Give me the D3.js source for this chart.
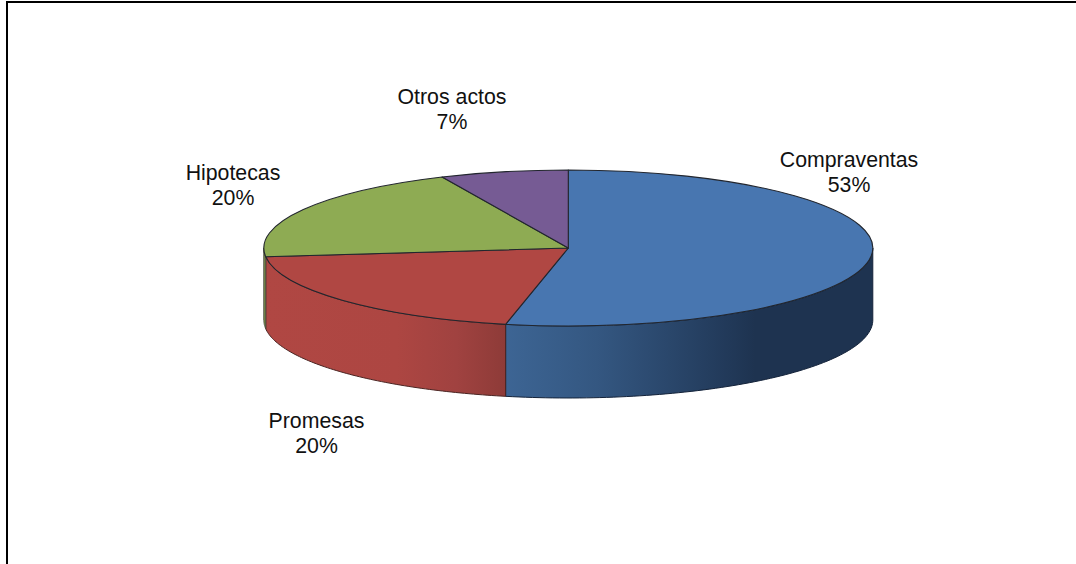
<!DOCTYPE html>
<html><head><meta charset="utf-8">
<script src="https://cdn.jsdelivr.net/npm/d3@7/dist/d3.min.js"></script>
<style>html,body{margin:0;padding:0;background:#fff}svg{display:block}</style>
</head><body><svg id="c" width="1076" height="564"></svg>
<script>
const categories = ["Compraventas","Promesas","Hipotecas","Otros actos"];
const values = [53.3,19.9,20,6.8];
const topColors = ["#4876B0","#B04743","#8EAB53","#765B94"];
const wallStrokes = ["#14233a","#4a2422","#4d4f40"];
const labelAnchors = [[849,167],[316.5,428],[233,180],[452,104]];

const W=1076,H=564,cx=568.3,cy=248,rx=304.5,ry=78,depth=72;
const svg=d3.select("#c");
const defs=svg.append("defs");

// frame: left and top edges only
svg.append("path").attr("d",`M7,564V2H1076`).attr("fill","none").attr("stroke","#000").attr("stroke-width",2);

const pie=d3.pie().sort(null).value(d=>d).startAngle(0).endAngle(2*Math.PI);
const arcs=pie(values);
const px=a=>cx+rx*Math.sin(a), py=a=>cy-ry*Math.cos(a);

// gradients for side walls, by screen x
const grads=[
 {i:0,x1:505,x2:873,stops:[[0,"#3D6594"],[0.25,"#345781"],[0.6,"#223A5A"],[0.68,"#1E3350"],[1,"#1E3350"]]},
 {i:1,x1:264,x2:505,stops:[[0,"#B04743"],[0.55,"#AD4642"],[0.8,"#A04240"],[1,"#8E3B38"]]},
 {i:2,x1:263,x2:266,stops:[[0,"#6F8540"],[1,"#8EAB53"]]}
];
grads.forEach(g=>{
 const lg=defs.append("linearGradient").attr("id","g"+g.i).attr("gradientUnits","userSpaceOnUse")
   .attr("x1",g.x1).attr("x2",g.x2).attr("y1",0).attr("y2",0);
 g.stops.forEach(s=>lg.append("stop").attr("offset",s[0]).attr("stop-color",s[1]));
});

// walls: visible front part only (angles between PI/2 and 3PI/2)
function wall(a0,a1){
  const n=80,s=d3.range(n+1).map(k=>a0+(a1-a0)*k/n);
  const line=d3.line();
  const topEdge=s.map(a=>[px(a),py(a)]);
  const botEdge=s.slice().reverse().map(a=>[px(a),py(a)+depth]);
  return line(topEdge.concat(botEdge))+"Z";
}
const g=svg.append("g");
arcs.forEach((d,i)=>{
  const a0=Math.max(d.startAngle,Math.PI/2), a1=Math.min(d.endAngle,3*Math.PI/2);
  if(a1<=a0) return;
  g.append("path").attr("d",wall(a0,a1)).attr("fill",`url(#g${i})`)
   .attr("stroke",wallStrokes[i]).attr("stroke-width",1).attr("stroke-linejoin","round");
});

// top faces through d3.arc with a vertical squash
const arc=d3.arc().innerRadius(0).outerRadius(rx);
const topG=svg.append("g").attr("transform",`translate(${cx},${cy}) scale(1,${ry/rx})`);
topG.selectAll("path").data(arcs).join("path")
  .attr("d",arc).attr("fill",(d,i)=>topColors[i])
  .attr("stroke","#22262e").attr("stroke-width",1.1).attr("vector-effect","non-scaling-stroke")
  .attr("stroke-linejoin","round");

// labels
const lab=svg.append("g").attr("font-family","'Liberation Sans',Arial,sans-serif").attr("font-size",21.3).attr("fill","#111").attr("text-anchor","middle");
categories.forEach((c,i)=>{
  const [x,y]=labelAnchors[i];
  lab.append("text").attr("x",x).attr("y",y).text(c);
  lab.append("text").attr("x",x).attr("y",y+25).text(Math.round(values[i])+"%");
});
</script></body></html>
